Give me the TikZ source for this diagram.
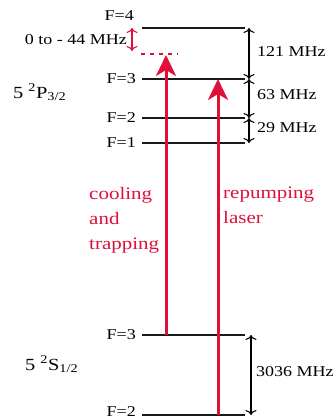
\documentclass[tikz,border=0pt]{standalone}
\usepackage{fontspec}
\setmainfont[FakeStretch=1.2]{Liberation Serif}
\usetikzlibrary{arrows.meta,positioning}
\definecolor{laserred}{RGB}{222,16,58}

\begin{document}
\begin{tikzpicture}[
  x=1pt, y=-1pt,
  font=\fontsize{15}{18}\selectfont,
  level/.style={line width=2.4pt, draw=black!90},
  ground/.style={line width=1.1pt, draw=black!90},
  detune/.style={dashed, dash pattern=on 4pt off 5pt, line width=1.3pt, draw=laserred},
  beam/.style={-{Stealth[length=21pt,width=20pt,inset=6pt]}, line width=3pt, draw=laserred},
  gap/.style={{To[length=5pt,width=11pt]}-{To[length=5pt,width=11pt]}, line width=1.1pt},
  flabel/.style={anchor=east, inner sep=0pt},
  mhz/.style={anchor=west, inner sep=0pt},
  term/.style={font=\fontsize{17}{20}\selectfont, anchor=base west, inner sep=0pt},
  note/.style={text=laserred, font=\fontsize{17.5}{25}\selectfont, align=left, anchor=north west, inner sep=0pt}
]
\useasboundingbox (0,0) rectangle (334,420);

% Excited state 5 2P3/2
\coordinate (p4w) at (142,28);  \coordinate (p4e) at (245,28);
\coordinate (p3w) at (142,79);  \coordinate (p3e) at (245,79);
\coordinate (p2w) at (142,118); \coordinate (p2e) at (245,118);
\coordinate (p1w) at (142,143); \coordinate (p1e) at (245,143);
\draw[level] (p4w) -- (p4e);
\draw[level] (p3w) -- (p3e);
\draw[level] (p2w) -- (p2e);
\draw[level] (p1w) -- (p1e);

\node[flabel] (lf4) at (134,16) {F=4};
\node[flabel] (lf3) at (136,79) {F=3};
\node[flabel] (lf2) at (136,118) {F=2};
\node[flabel] (lf1) at (136,143) {F=1};
\node[term] (pterm) at (13,98) {5 \textsuperscript{2}P\textsubscript{3/2}};

% Ground state 5 2S1/2
\coordinate (s3w) at (142,335); \coordinate (s3e) at (245,335);
\coordinate (s2w) at (142,415); \coordinate (s2e) at (245,415);
\draw[ground] (s3w) -- (s3e);
\draw[ground] (s2w) -- (s2e);

\node[flabel] (gf3) at (136,335) {F=3};
\node[flabel] (gf2) at (136,412) {F=2};
\node[term] (sterm) at (25,370) {5 \textsuperscript{2}S\textsubscript{1/2}};

% Detuning of the cooling laser
\coordinate (dtw) at (141,54); \coordinate (dte) at (178,54);
\draw[detune] (dtw) -- (dte);
\coordinate (dtop) at (132,28); \coordinate (dbot) at (132,51);
\draw[gap, draw=laserred] (dtop) -- (dbot);
\node[flabel] (dlabel) at (127,40) {0 to - 44 MHz};

% Hyperfine splittings
\coordinate (h4) at (249,28);
\coordinate (h3) at (249,79);
\coordinate (h2) at (249,118);
\coordinate (h1) at (249,143);
\draw[gap] (h4) -- (h3);
\draw[gap] (h3) -- (h2);
\draw[gap] (h2) -- (h1);
\node[mhz] (m121) at (257,52) {121 MHz};
\node[mhz] (m63) at (257,95) {63 MHz};
\node[mhz] (m29) at (257,128) {29 MHz};

\coordinate (g3) at (251,335);
\coordinate (g2) at (251,415);
\draw[gap] (g3) -- (g2);
\node[mhz] (m3036) at (256,372) {3036 MHz};

% Laser beams
\coordinate (cbot) at (166,335); \coordinate (ctop) at (166,55);
\coordinate (rbot) at (218,415); \coordinate (rtop) at (218,79);
\draw[beam] (cbot) -- (ctop);
\draw[beam] (rbot) -- (rtop);

\node[note] (cool) at (89,187) {cooling\\and\\trapping};
\node[note] (repump) at (223,187) {repumping\\laser};

\end{tikzpicture}
\end{document}
